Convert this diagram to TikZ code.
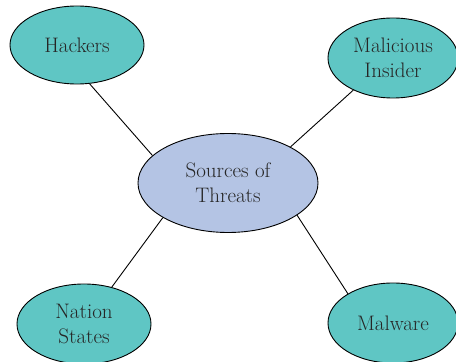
\documentclass[tikz,border=0pt]{standalone}
\usetikzlibrary{shapes.geometric}
\definecolor{leafteal}{HTML}{5FC6C4}
\definecolor{hubblue}{HTML}{B4C4E4}
\definecolor{inktext}{HTML}{262626}
\begin{document}
\begin{tikzpicture}[x=1pt,y=1pt,
  bubble/.style={ellipse, draw=black, line width=0.9pt, inner sep=0pt,
    text=inktext, align=center,
    font=\fontsize{21}{25}\selectfont},
  leaf/.style={bubble, fill=leafteal, minimum width=134pt, minimum height=78pt},
  hub/.style={bubble, fill=hubblue, minimum width=180pt, minimum height=99pt},
  spoke/.style={draw=black, line width=0.9pt}]
  \useasboundingbox (0,0) rectangle (456,362);
  \fill[white] (0,0) rectangle (456,362);

  % hub and its four sources
  \node[hub]  (src) at (228,179) {Sources of\\Threats};
  \node[leaf] (hk)  at (77,317)  {Hackers};
  \node[leaf, minimum width=130pt, minimum height=80pt] (mi) at (393,304) {Malicious\\Insider};
  \node[leaf, minimum height=80pt] (ns) at (84,38)   {Nation\\States};
  \node[leaf, minimum width=130pt, minimum height=80pt] (mw) at (393,39) {Malware};

  % spokes
  \draw[spoke] (hk.-72)  -- (src.160);
  \draw[spoke] (mi.-141) -- (src.30);
  \draw[spoke] (ns.53)   -- (src.-152);
  \draw[spoke] (mw.147)  -- (src.-25);
\end{tikzpicture}
\end{document}
